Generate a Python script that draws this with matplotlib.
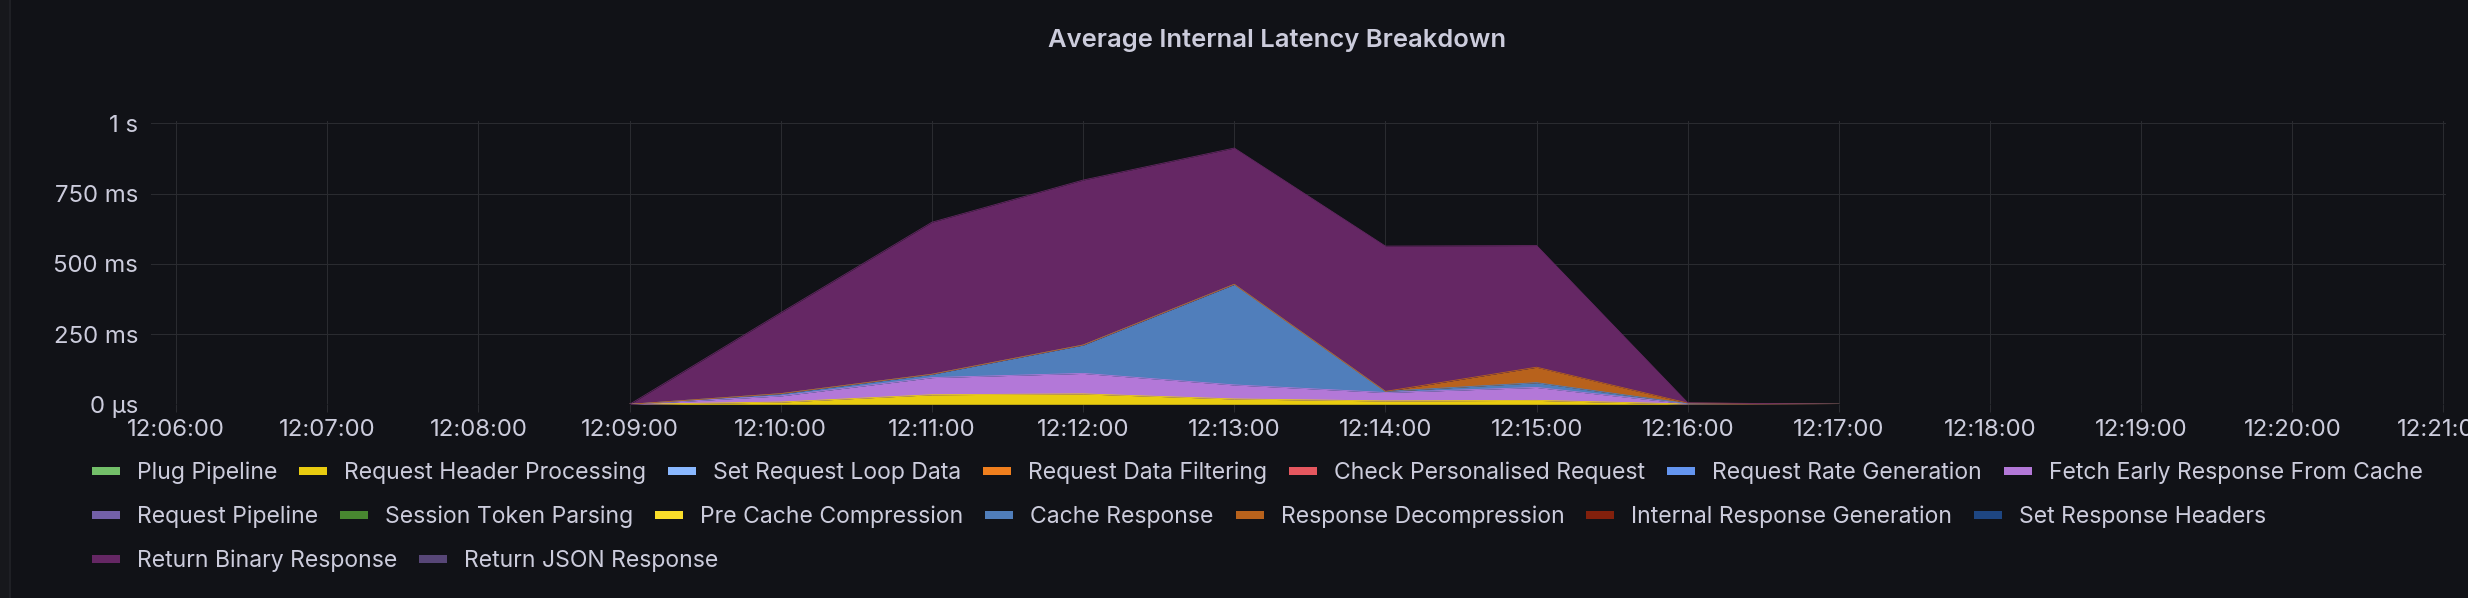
import numpy as np
import pandas as pd
import matplotlib
matplotlib.use("Agg")
import matplotlib.pyplot as plt
import matplotlib.dates as mdates
from matplotlib.patches import Rectangle

times = ["12:09:00", "12:10:00", "12:11:00", "12:12:00", "12:13:00",
         "12:14:00", "12:15:00", "12:16:00", "12:17:00"]

series_names = [
    "Plug Pipeline", "Request Header Processing", "Set Request Loop Data",
    "Request Data Filtering", "Check Personalised Request", "Request Rate Generation",
    "Fetch Early Response From Cache", "Request Pipeline", "Session Token Parsing",
    "Pre Cache Compression", "Cache Response", "Response Decompression",
    "Internal Response Generation", "Set Response Headers",
    "Return Binary Response", "Return JSON Response",
]
series_colors = [
    "#73BF69", "#E9CC10", "#8AB8FF", "#F07F1E", "#E6575F", "#6495F0",
    "#B378D8", "#7360A8", "#488730", "#FADE2A", "#507EBB", "#B8621C",
    "#82200C", "#1E4682", "#652764", "#574677",
]

plug_pipeline = [0, 0, 0, 0, 0, 0, 0, 0, 0]
request_header = [0, 0.008, 0.034, 0.037, 0.019, 0.012, 0.014, 0.001, 0]
set_loop_data = [0, 0, 0, 0, 0, 0, 0, 0, 0]
data_filtering = [0, 0, 0, 0, 0, 0, 0, 0, 0]
check_personalised = [0, 0, 0, 0, 0, 0, 0, 0, 0]
rate_generation = [0, 0, 0, 0, 0, 0, 0, 0, 0]
fetch_early = [0, 0.022, 0.061, 0.073, 0.050, 0.030, 0.046, 0.001, 0]
request_pipeline = [0, 0, 0, 0, 0, 0, 0, 0, 0]
session_token = [0, 0, 0, 0, 0, 0, 0, 0, 0]
pre_cache = [0, 0, 0, 0, 0, 0, 0, 0, 0]
cache_response = [0, 0.008, 0.012, 0.101, 0.358, 0.004, 0.017, 0.0005, 0]
decompression = [0, 0, 0, 0, 0, 0, 0.055, 0.002, 0]
internal_generation = [0, 0, 0, 0, 0, 0, 0, 0, 0]
set_headers = [0, 0, 0, 0, 0, 0, 0, 0, 0]
return_binary = [0, 0.288, 0.541, 0.587, 0.485, 0.517, 0.433, 0.001, 0]
return_json = [0, 0, 0, 0, 0, 0, 0, 0, 0]

all_values = [plug_pipeline, request_header, set_loop_data, data_filtering,
              check_personalised, rate_generation, fetch_early, request_pipeline,
              session_token, pre_cache, cache_response, decompression,
              internal_generation, set_headers, return_binary, return_json]

y_ticks = [0, 0.25, 0.5, 0.75, 1.0]
y_tick_labels = ["0 µs", "250 ms", "500 ms", "750 ms", "1 s"]
x_start, x_end = "12:05:50", "12:21:01"

BG = "#111217"
TXT = "#CCCCDC"
GRID = "#2A2B30"
W, H = 2468, 598

plt.rcParams["font.family"] = ["Inter", "DejaVu Sans"]
px = 72 / 100  # pixels -> pontos

day = "2024-01-01 "
x = pd.to_datetime([day + t for t in times])

fig = plt.figure(figsize=(W / 100, H / 100), dpi=100, facecolor=BG)
# borda esquerda do painel
fig.patches.append(Rectangle((0, 0), 9 / W, 1, transform=fig.transFigure,
                             facecolor="#17181C", edgecolor="none", zorder=0))
fig.lines.append(plt.Line2D([9.5 / W, 9.5 / W], [0, 1], transform=fig.transFigure,
                            color="#222328", lw=1.2))

left, right, top, bottom = 151, 2446, 120.7, 404.3
ax = fig.add_axes([left / W, 1 - bottom / H, (right - left) / W, (bottom - top) / H])
ax.set_facecolor(BG)

# areas empilhadas na ordem da legenda (a primeira serie fica embaixo)
base = np.zeros(len(times))
for name, vals, col in zip(series_names, all_values, series_colors):
    upper = base + np.array(vals)
    ax.fill_between(x, base, upper, color=col, lw=0, zorder=2)
    if any(vals):
        ax.plot(x, upper, color=col, lw=0.6, zorder=3)
    base = upper

ax.set_ylim(0, (bottom - top) / 281)
ax.set_xlim(pd.Timestamp(day + x_start), pd.Timestamp(day + x_end))
ax.set_yticks(y_ticks)
ax.set_yticklabels(y_tick_labels)
ax.xaxis.set_major_locator(mdates.MinuteLocator())
ax.xaxis.set_major_formatter(mdates.DateFormatter("%H:%M:%S"))
ax.grid(True, color=GRID, lw=0.75, zorder=1)
for s in ax.spines.values():
    s.set_visible(False)
ax.tick_params(axis="x", colors=GRID, length=5.8, width=0.75, pad=4.8,
               labelcolor=TXT, labelsize=24 * px)
ax.tick_params(axis="y", length=0, pad=9.1, labelcolor=TXT, labelsize=24 * px)

fig.text(1277 / W, 1 - 46.7 / H, "Average Internal Latency Breakdown", color=TXT,
         fontsize=25.6 * px, fontweight="semibold", ha="center", va="baseline")

# legenda em fluxo, como no Grafana
renderer = fig.canvas.get_renderer()
mx, row = 91.7, 0
row_base = [479.5, 523.5, 567.5]
for name, col in zip(series_names, series_colors):
    t = fig.text(0, 0, name, color=TXT, fontsize=23 * px, ha="left", va="baseline")
    tw = t.get_window_extent(renderer).width
    if mx + 45 + tw > 2446:
        mx, row = 91.7, row + 1
    yb = row_base[row]
    t.set_position(((mx + 45) / W, 1 - yb / H))
    fig.patches.append(Rectangle((mx / W, 1 - (yb - 4.5) / H), 28 / W, 8 / H,
                                 transform=fig.transFigure, facecolor=col,
                                 edgecolor="none"))
    mx = mx + 45 + tw + 22

fig.savefig("out.png", dpi=100, facecolor=BG)
